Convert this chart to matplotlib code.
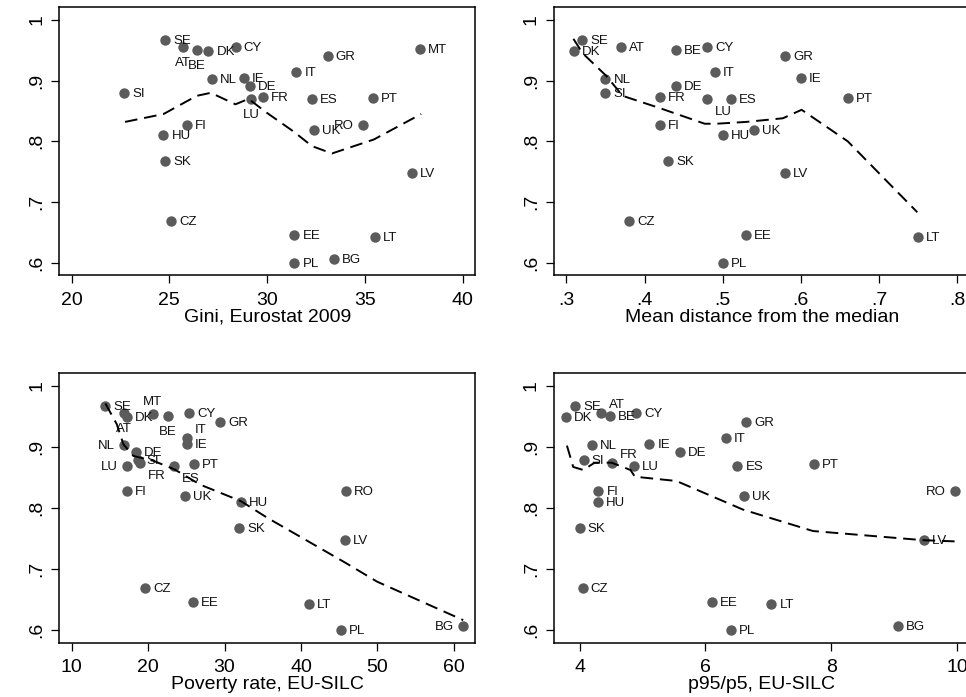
import numpy as np
import matplotlib
matplotlib.use("Agg")
import matplotlib.pyplot as plt

plt.rcParams['font.family'] = ['Liberation Sans', 'DejaVu Sans']

# country codes and the common y variable
countries = ["SE", "DK", "AT", "BE", "CY", "GR", "MT", "IT", "NL", "IE", "DE", "FR", "LU", "SI",
             "ES", "PT", "FI", "HU", "UK", "RO", "SK", "LV", "CZ", "EE", "LT", "PL", "BG"]
score = [0.967, 0.949, 0.956, 0.951, 0.956, 0.941, 0.953, 0.914, 0.903, 0.905, 0.892, 0.873, 0.869, 0.879,
         0.869, 0.872, 0.827, 0.810, 0.819, 0.827, 0.767, 0.748, 0.669, 0.645, 0.643, 0.600, 0.606]

nan = np.nan
gini = [24.8, 27.0, 25.7, 26.4, 28.4, 33.1, 37.8, 31.5, 27.2, 28.8, 29.1, 29.8, 29.2, 22.7,
        32.3, 35.4, 25.9, 24.7, 32.4, 34.9, 24.8, 37.4, 25.1, 31.4, 35.5, 31.4, 33.4]
meandist = [0.32, 0.31, 0.37, 0.44, 0.48, 0.58, nan, 0.49, 0.35, 0.60, 0.44, 0.42, 0.48, 0.35,
            0.51, 0.66, 0.42, 0.50, 0.54, nan, 0.43, 0.58, 0.38, 0.53, 0.75, 0.50, nan]
poverty = [14.4, 17.2, 16.8, 22.6, 25.4, 29.4, 20.6, 25.1, 16.8, 25.1, 18.4, 18.9, 17.2, 18.7,
           23.4, 26.0, 17.2, 32.1, 24.8, 45.9, 31.9, 45.8, 19.6, 25.9, 41.0, 45.2, 61.2]
p95p5 = [3.93, 3.79, 4.34, 4.48, 4.90, 6.65, nan, 6.33, 4.20, 5.11, 5.59, 4.52, 4.86, 4.07,
         6.51, 7.73, 4.30, 4.29, 6.61, 9.97, 4.00, 9.47, 4.05, 6.11, 7.05, 6.41, 9.06]

# smoothed (lowess) lines
fit_gini_x = [22.73, 24.70, 26.40, 27.12, 28.38, 29.05, 29.99, 31.36, 32.30, 33.32, 35.46, 37.88]
fit_gini_y = [0.832, 0.845, 0.875, 0.880, 0.861, 0.870, 0.847, 0.816, 0.792, 0.780, 0.803, 0.845]
fit_md_x = [0.309, 0.321, 0.351, 0.372, 0.419, 0.477, 0.492, 0.530, 0.577, 0.601, 0.660, 0.749]
fit_md_y = [0.969, 0.945, 0.908, 0.875, 0.855, 0.829, 0.829, 0.832, 0.838, 0.852, 0.800, 0.683]
fit_pov_x = [14.41, 15.9, 16.77, 18.08, 20.70, 23.45, 26.81, 32.14, 35.55, 45.81, 49.96, 61.22]
fit_pov_y = [0.971, 0.937, 0.904, 0.885, 0.877, 0.863, 0.838, 0.811, 0.784, 0.710, 0.679, 0.616]
fit_p_x = [3.80, 3.90, 4.06, 4.24, 4.51, 4.81, 4.88, 5.54, 6.60, 7.71, 9.46, 9.97]
fit_p_y = [0.902, 0.867, 0.862, 0.874, 0.874, 0.862, 0.851, 0.844, 0.797, 0.762, 0.747, 0.745]

yticks = [0.6, 0.7, 0.8, 0.9, 1.0]
yticklabels = [".6", ".7", ".8", ".9", "1"]

# label positions that differ from the default (right of the marker)
pos_gini = {"AT": "b", "BE": "b", "LU": "b", "RO": "l"}
pos_md = {"LU": "br"}
pos_pov = {"MT": "a", "AT": "b", "BE": "b", "IT": "ar", "NL": "l", "FR": "br", "ES": "br", "LU": "l", "BG": "l"}
pos_p = {"AT": "ar", "FR": "ar", "RO": "l"}

offsets = {
    "r": ((8, -1), "left", "center"),
    "l": ((-9, -1), "right", "center"),
    "b": ((0, -16), "center", "center"),
    "a": ((0, 12), "center", "center"),
    "ar": ((8, 8), "left", "center"),
    "br": ((8, -13), "left", "center"),
}

panels = [
    # x, fit x, fit y, label pos, xlim, xticks, xticklabels, xlabel, axes rect
    (gini, fit_gini_x, fit_gini_y, pos_gini, (19.37, 40.65), [20, 25, 30, 35, 40],
     ["20", "25", "30", "35", "40"], "Gini, Eurostat 2009", [0.0614, 0.605, 0.4306, 0.3845]),
    (meandist, fit_md_x, fit_md_y, pos_md, (0.2838, 0.816), [0.3, 0.4, 0.5, 0.6, 0.7, 0.8],
     [".3", ".4", ".5", ".6", ".7", ".8"], "Mean distance from the median", [0.5732, 0.605, 0.4306, 0.3845]),
    (poverty, fit_pov_x, fit_pov_y, pos_pov, (8.38, 62.8), [10, 20, 30, 40, 50, 60],
     ["10", "20", "30", "40", "50", "60"], "Poverty rate, EU-SILC", [0.0614, 0.0779, 0.4306, 0.387]),
    (p95p5, fit_p_x, fit_p_y, pos_p, (3.59, 10.20), [4, 6, 8, 10],
     ["4", "6", "8", "10"], "p95/p5, EU-SILC", [0.5732, 0.0779, 0.4306, 0.387]),
]

fig = plt.figure(figsize=(9.66, 6.97), dpi=100)

for xs, fx, fy, pos, xlim, xt, xtl, xlab, rect in panels:
    ax = fig.add_axes(rect)
    ax.plot(xs, score, "o", color="#5b5b5b", markersize=7.5, markeredgewidth=0, zorder=2)
    for c, x, y in zip(countries, xs, score):
        if np.isnan(x):
            continue
        off, ha, va = offsets[pos.get(c, "r")]
        ax.annotate(c, (x, y), xytext=off, textcoords="offset pixels", ha=ha, va=va,
                    fontsize=9.5, color="#111111", zorder=3)
    ax.plot(fx, fy, color="black", lw=1.4, dashes=(6.5, 3.5), zorder=4)
    ax.set_xlim(xlim)
    ax.set_ylim(0.579, 1.021)
    ax.set_xticks(xt)
    ax.set_xticklabels(xtl)
    ax.set_yticks(yticks)
    ax.set_yticklabels(yticklabels, rotation=90, va="center")
    ax.tick_params(axis="both", direction="out", length=6, width=0.9, labelsize=14)
    ax.tick_params(axis="x", pad=6)
    ax.tick_params(axis="y", pad=4)
    ax.set_xlabel(xlab, fontsize=14, labelpad=0)
    for s in ax.spines.values():
        s.set_linewidth(1.1)

plt.savefig("out.png", dpi=100)
